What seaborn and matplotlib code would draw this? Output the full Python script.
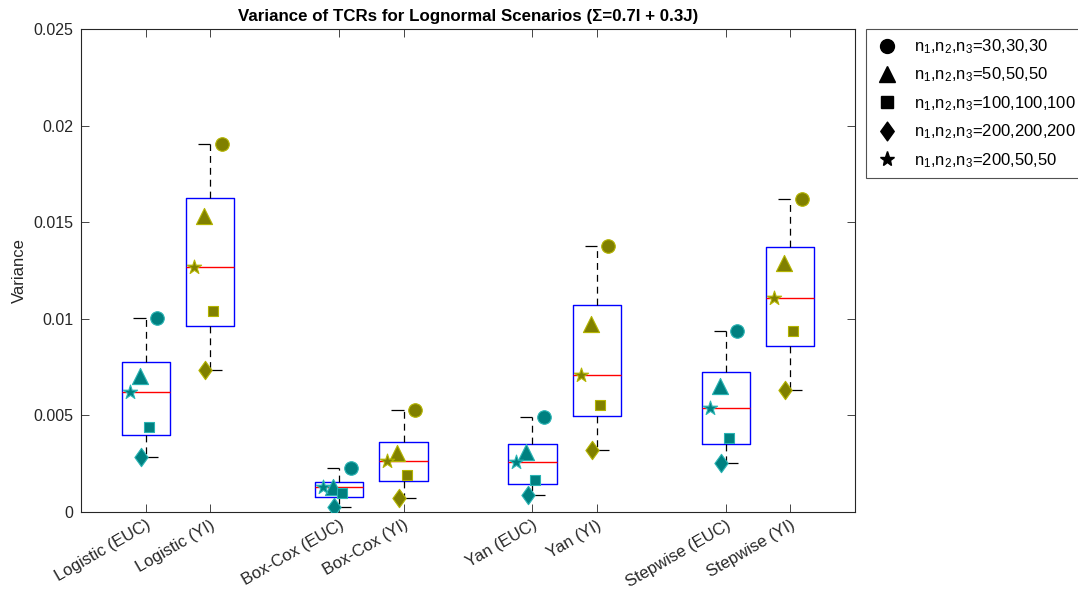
import numpy as np
import pandas as pd
import matplotlib
matplotlib.use("Agg")
import matplotlib.pyplot as plt
from matplotlib.lines import Line2D
from matplotlib.path import Path
import matplotlib.transforms as mtransforms
import seaborn as sns

# ---------------- data ----------------
methods = ['Logistic (EUC)', 'Logistic (YI)', 'Box-Cox (EUC)', 'Box-Cox (YI)',
           'Yan (EUC)', 'Yan (YI)', 'Stepwise (EUC)', 'Stepwise (YI)']
kinds = ['EUC', 'YI', 'EUC', 'YI', 'EUC', 'YI', 'EUC', 'YI']
n30_30_30 = [0.01002, 0.01904, 0.00229, 0.00526, 0.00490, 0.01375, 0.00938, 0.01622]
n50_50_50 = [0.00703, 0.01530, 0.00131, 0.00307, 0.00309, 0.00972, 0.00652, 0.01289]
n100_100_100 = [0.00438, 0.01038, 0.00097, 0.00191, 0.00165, 0.00553, 0.00383, 0.00936]
n200_200_200 = [0.00286, 0.00734, 0.00027, 0.00071, 0.00088, 0.00321, 0.00255, 0.00631]
n200_50_50 = [0.00622, 0.01270, 0.00128, 0.00264, 0.00260, 0.00707, 0.00536, 0.01110]
series_labels = ['n$_1$,n$_2$,n$_3$=30,30,30', 'n$_1$,n$_2$,n$_3$=50,50,50',
                 'n$_1$,n$_2$,n$_3$=100,100,100', 'n$_1$,n$_2$,n$_3$=200,200,200',
                 'n$_1$,n$_2$,n$_3$=200,50,50']
yticks = [0, 0.005, 0.01, 0.015, 0.02, 0.025]
ytick_labels = ['0', '0.005', '0.01', '0.015', '0.02', '0.025']

# ---------------- style ----------------
positions = [1, 2, 4, 5, 7, 8, 10, 11]
offsets = [0.18, -0.095, 0.047, -0.073, -0.25]
diamond = Path([(0, 1), (0.72, 0), (0, -1), (-0.72, 0), (0, 1)],
               [Path.MOVETO, Path.LINETO, Path.LINETO, Path.LINETO, Path.CLOSEPOLY])
markers = ['o', '^', 's', diamond, '*']
msizes = [95, 135, 62, 175, 115]
leg_ms = [10, 12, 8, 13.5, 11]
face = {'EUC': '#008080', 'YI': '#808000'}
edge = {'EUC': '#2ab4b4', 'YI': '#b4b400'}
ink = '#262626'

sns.set_style('white')
plt.rcParams['font.family'] = ['Liberation Sans', 'DejaVu Sans']
plt.rcParams['mathtext.fontset'] = 'custom'
plt.rcParams['mathtext.rm'] = 'Liberation Sans'
plt.rcParams['mathtext.it'] = 'Liberation Sans:italic'
plt.rcParams['mathtext.bf'] = 'Liberation Sans:bold'
plt.rcParams['mathtext.default'] = 'regular'

fig = plt.figure(figsize=(10.78, 5.96), dpi=100)
ax = fig.add_axes([0.0754, 0.1409, 0.7174, 0.8104])

series = [n30_30_30, n50_50_50, n100_100_100, n200_200_200, n200_50_50]
rows = []
for si, vals in enumerate(series):
    for mi, v in enumerate(vals):
        rows.append(dict(method=methods[mi], kind=kinds[mi], series=si,
                         x=positions[mi] + offsets[si], value=v))
df = pd.DataFrame(rows)


def mprctile(sorted_x, p):
    n = len(sorted_x)
    q = (np.arange(1, n + 1) - 0.5) / n
    return float(np.interp(p, q, sorted_x))


stats = []
for mi in range(len(methods)):
    vals = np.sort([s[mi] for s in series])
    stats.append(dict(med=float(np.median(vals)), q1=mprctile(vals, 0.25),
                      q3=mprctile(vals, 0.75), whislo=float(vals[0]),
                      whishi=float(vals[-1]), fliers=[]))

ax.bxp(stats, positions=positions, widths=0.75, showcaps=False, showfliers=False,
       boxprops=dict(color='#0000ff', linewidth=1.0),
       medianprops=dict(color='#ff0000', linewidth=1.0),
       whiskerprops=dict(color='black', linewidth=0.9, linestyle=(0, (5.5, 4))),
       manage_ticks=False)
cap = 0.19
for p, st in zip(positions, stats):
    ax.hlines(st['whishi'], p - cap, p, color='black', lw=0.9)
    ax.hlines(st['whislo'], p, p + cap, color='black', lw=0.9)

for si in range(len(series)):
    for k in ['EUC', 'YI']:
        sub = df[(df.series == si) & (df.kind == k)]
        sns.scatterplot(data=sub, x='x', y='value', ax=ax, marker=markers[si],
                        s=msizes[si], color=face[k], edgecolor=edge[k],
                        linewidth=0.8, zorder=5, legend=False)

ax.set_xlim(0, 12)
ax.set_ylim(0, 0.025)
ax.set_xticks(positions)
ax.set_xticklabels(methods, rotation=30, ha='right', va='top',
                   rotation_mode='anchor', fontsize=12, color=ink)
shift = mtransforms.ScaledTranslation(4 / 100, -10 / 100, fig.dpi_scale_trans)
for lab in ax.get_xticklabels():
    lab.set_transform(lab.get_transform() + shift)
ax.set_yticks(yticks)
ax.set_yticklabels(ytick_labels, fontsize=11.5, color=ink)
ax.set_xlabel('')
ax.set_ylabel('Variance', fontsize=12, color=ink, labelpad=5)
ax.tick_params(direction='in', length=6, width=0.6, color=ink,
               top=True, right=True, left=True, bottom=True, pad=4)
ax.tick_params(axis='y', pad=5.5)
for sp in ax.spines.values():
    sp.set_color(ink)
    sp.set_linewidth(0.8)
ax.set_title('Variance of TCRs for Lognormal Scenarios (\u03a3=0.7I + 0.3J)',
             fontsize=12.2, fontweight='bold', color='black', pad=6)

handles = [Line2D([], [], linestyle='none', marker=m, color='black',
                  markersize=ms, markeredgecolor='black')
           for m, ms in zip(markers, leg_ms)]
leg = ax.legend(handles, series_labels, loc='upper left',
                bbox_to_anchor=(1.0146, 1.0), borderaxespad=0, fontsize=12,
                frameon=True, fancybox=False, edgecolor=ink, labelspacing=0.58,
                handletextpad=0.86, borderpad=0.5, handlelength=1.52)
leg.get_frame().set_linewidth(0.8)
for t in leg.get_texts():
    t.set_color('black')

fig.savefig('out.png', dpi=100)
